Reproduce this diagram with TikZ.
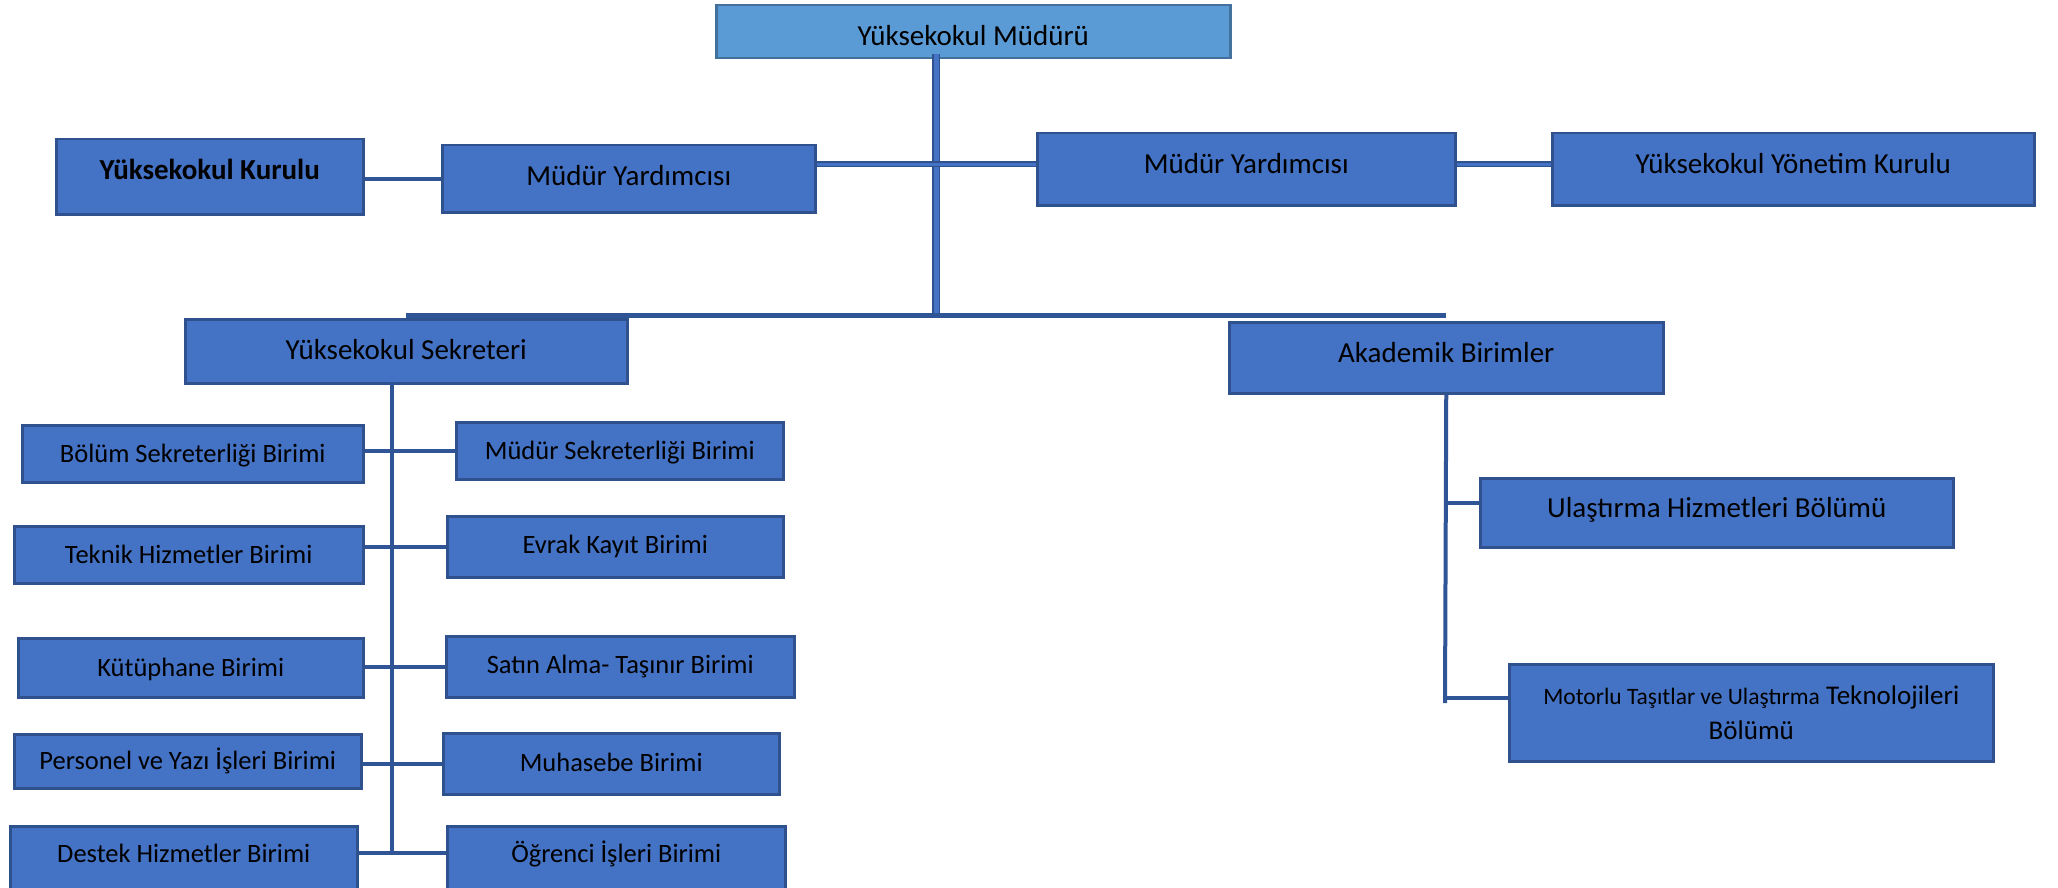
\documentclass[tikz,border=0pt]{standalone}
\usepackage{fontspec}
\setmainfont{Carlito}
\usetikzlibrary{calc}

\definecolor{boxblue}{HTML}{4472C4}
\definecolor{boxline}{HTML}{2F528F}
\definecolor{topblue}{HTML}{5B9BD5}
\definecolor{topline}{HTML}{41719C}
\definecolor{linkblue}{HTML}{2F5597}

\tikzset{
  unit/.style={draw=boxline, fill=boxblue, line width=2.5pt, inner sep=0pt,
    anchor=north west, font=\fontsize{29}{34}\selectfont,
    text height=18.5pt, text depth=0pt},
  subunit/.style={unit, font=\fontsize{26.5}{31}\selectfont, text height=16.8pt},
  link/.style={draw=linkblue, line width=4.5pt},
  twin/.style={draw=boxline, double=boxblue, double distance=3pt, line width=1.5pt},
}

\begin{document}
\begin{tikzpicture}[x=1pt,y=-1pt]
\useasboundingbox (0,0) rectangle (2058,888);

% top of the chart
\node[unit, fill=topblue, draw=topline, minimum width=514pt, minimum height=53pt,
  text height=26.7pt] (mudur) at (715,4) {Yüksekokul Müdürü};

% second row
\node[unit, minimum width=307pt, minimum height=75pt, text depth=13pt,
  font=\fontsize{29}{34}\selectfont\bfseries] (kurulu) at (55,138) {Yüksekokul Kurulu};
\node[unit, minimum width=373pt, minimum height=67pt, text depth=6pt] (yardL) at (441,144) {Müdür Yardımcısı};
\node[unit, minimum width=418pt, minimum height=72pt, text depth=11pt] (yardR) at (1036,132) {Müdür Yardımcısı};
\node[unit, minimum width=482pt, minimum height=72pt, text depth=11pt] (yonetim) at (1551,132) {Yüksekokul Yönetim Kurulu};

% third row
\node[unit, minimum width=442pt, minimum height=64pt, text depth=2pt] (sekreter) at (184,318) {Yüksekokul Sekreteri};
\node[unit, minimum width=434pt, minimum height=71pt, text depth=9pt] (akademik) at (1228,321) {Akademik Birimler};

% academic units
\node[unit, minimum width=473pt, minimum height=69pt, text depth=10pt] (ulastirma) at (1479,477) {Ulaştırma Hizmetleri Bölümü};
\node[unit, minimum width=484pt, minimum height=97pt, text height={}, text depth={},
  align=center, font=\fontsize{27}{35}\selectfont] (motorlu) at (1508,663)
  {{\fontsize{23.5}{35}\selectfont Motorlu Taşıtlar ve Ulaştırma} Teknolojileri\\Bölümü};

% units under the secretary
\foreach \name/\x/\y/\w/\h/\d/\txt in {
  bolum/21/424/341/57/0/{Bölüm Sekreterliği Birimi},
  mudsek/455/421/327/57/0/{Müdür Sekreterliği Birimi},
  teknik/13/525/349/57/0/{Teknik Hizmetler Birimi},
  evrak/446/515/336/61/4/{Evrak Kayıt Birimi},
  kutup/17/637/345/59/0/{Kütüphane Birimi},
  satin/445/635/348/61/4/{Satın Alma- Taşınır Birimi},
  personel/13/733/347/54/0/{Personel ve Yazı İşleri Birimi},
  muhasebe/442/732/336/61/2/{Muhasebe Birimi},
  destek/9/825/347/70/14/{Destek Hizmetler Birimi},
  ogrenci/446/825/338/70/14/{Öğrenci İşleri Birimi}}
  \node[subunit, minimum width=\w pt, minimum height=\h pt, text depth=\d pt] (\name) at (\x,\y) {\txt};

% branch points
\coordinate (hub) at (936,315);
\coordinate (yard) at (936,164);
\coordinate (spinetop) at (392,382);
\coordinate (spineend) at (392,853);
\coordinate (akbranch) at (1445,503);
\coordinate (akmot) at (1445,698);
\coordinate (akend) at (1445,703);

% main trunk and the bar below it
\draw[twin, double distance=5pt] ($(mudur.south -| hub)+(0,-5)$) -- (hub);
\draw[link, line width=5pt] (hub -| sekreter.north) -- (hub -| akademik.north);

% deputies and boards
\draw[twin] (yard -| yardL.east) -- (yard -| yardR.west);
\draw[twin] (yard -| yardR.east) -- (yard -| yonetim.west);
\draw[link] (yardL.west -| kurulu.east) -- (yardL.west);

% secretary spine
\draw[link, line width=4pt] (spinetop) -- (spineend);
\foreach \l/\r in {bolum/mudsek, teknik/evrak, kutup/satin, personel/muhasebe}
  \draw[link] (\r.west -| \l.east) -- (\r.west);
\draw[link] (spineend -| destek.east) -- (spineend -| ogrenci.west);

% academic spine
\draw[link, line width=4pt] (akademik.south) -- (akend);
\draw[link] (akbranch) -- (akbranch -| ulastirma.west);
\draw[link] (akmot) -- (akmot -| motorlu.west);

\end{tikzpicture}
\end{document}
